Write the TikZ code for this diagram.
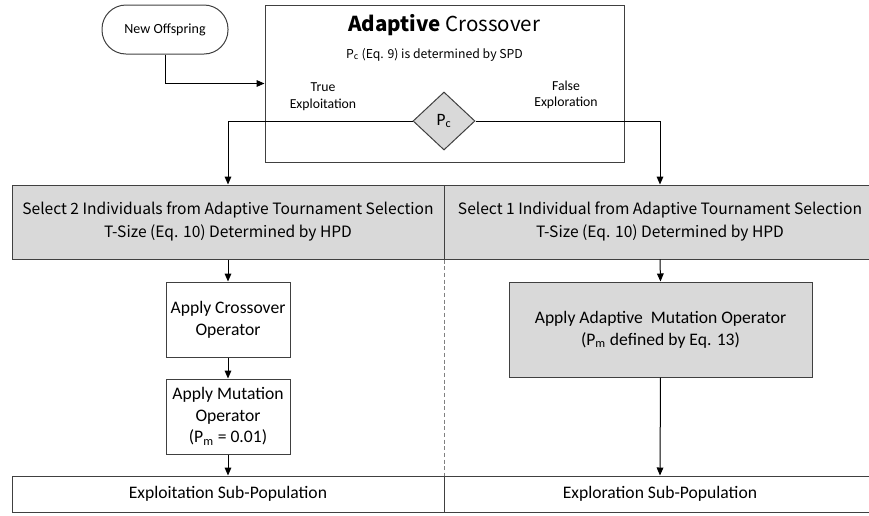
\documentclass[tikz,border=0pt]{standalone}
\usepackage{fontspec}
\setmainfont{Carlito}
\newfontfamily\goth{Noto Sans CJK JP}
\usetikzlibrary{shapes.geometric,arrows.meta}
\definecolor{boxgray}{HTML}{D9D9D9}
\definecolor{edge}{HTML}{404040}
\newcommand\myfs[2]{\fontsize{#1}{#2}\selectfont}
\begin{document}
\begin{tikzpicture}[x=0.75pt,y=-0.75pt,
  box/.style={draw=edge, line width=0.75pt, rectangle, inner sep=0pt, align=center},
  gbox/.style={box, fill=boxgray},
  arr/.style={draw=black, line width=0.75pt, -{Triangle[length=6pt,width=5pt]}},
  lbl/.style={inner sep=0pt, align=center}]
\useasboundingbox (0,0) rectangle (869,515);
% top
\node[box, rounded corners=18pt, minimum width=94.5pt, minimum height=36.75pt, font=\myfs{10.5}{12}] (off) at (165,29.5) {New Offspring};
\node[box, minimum width=269.25pt, minimum height=117.75pt] (cross) at (444.5,83.5) {};
\node[lbl, font=\goth\myfs{15.4}{18}] (title) at (444,25) {\textbf{Adaptive} Crossover};
\node[lbl, font=\goth\myfs{9.2}{12}] (sub) at (434.5,55) {P\textsubscript{c} (Eq. 9) is determined by SPD};
\node[diamond, draw=edge, fill=boxgray, line width=0.75pt, inner sep=0pt, minimum width=46.5pt, minimum height=43.5pt, font=\myfs{13}{15}] (pc) at (444,121) {P\textsubscript{c}};
\node[lbl, font=\myfs{10.3}{12.5}] (tl) at (323,97) {True\\Exploitation};
\node[lbl, font=\myfs{10.3}{12.5}] (fl) at (566,95) {False\\Exploration};
% selection
\node[gbox, minimum width=324pt, minimum height=55.5pt, font=\goth\myfs{11.7}{17.25}] (selL) at (228,222) {Select 2 Individuals from Adaptive Tournament Selection\\T-Size (Eq. 10) Determined by HPD};
\node[gbox, minimum width=324pt, minimum height=55.5pt, font=\goth\myfs{11.7}{17.25}] (selR) at (660,222) {Select 1 Individual from Adaptive Tournament Selection\\T-Size (Eq. 10) Determined by HPD};
% left column
\node[box, minimum width=93pt, minimum height=56.25pt, font=\myfs{13.2}{16.3}] (xop) at (228,319.5) {Apply Crossover\\Operator};
\node[box, minimum width=93pt, minimum height=56.25pt, font=\myfs{13.2}{16.1}] (mop) at (228,416.5) {Apply Mutation\\Operator\\(P\textsubscript{m} = 0.01)};
% right column
\node[gbox, minimum width=227.25pt, minimum height=71.25pt, font=\myfs{13.2}{16.5}] (amop) at (660.5,329.5) {Apply Adaptive\ \ Mutation Operator\\(P\textsubscript{m} defined by Eq. 13)};
% bottom
\node[box, minimum width=324pt, minimum height=27pt, font=\myfs{13.2}{16}] (expt) at (228,494) {Exploitation Sub-Population};
\node[box, minimum width=324pt, minimum height=27pt, font=\myfs{13.2}{16}] (expr) at (660,494) {Exploration Sub-Population};
% separator
\draw[gray, line width=0.6pt, densely dashed] (selL.south east) -- (expt.north east);
% connectors
\draw[arr] (off.south) |- (cross.west);
\draw[arr] (pc.west) -| (selL.north);
\draw[arr] (pc.east) -| (selR.north);
\draw[arr] (selL.south) -- (xop.north);
\draw[arr] (xop.south) -- (mop.north);
\draw[arr] (mop.south) -- (expt.north);
\draw[arr] (selR.south) -- (amop.north);
\draw[arr] (amop.south) -- (expr.north);
\end{tikzpicture}
\end{document}
